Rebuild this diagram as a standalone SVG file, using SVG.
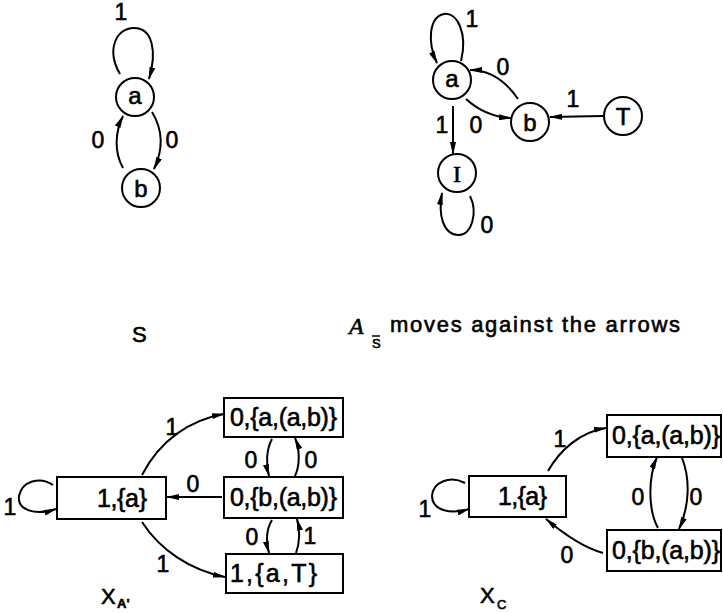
<svg xmlns="http://www.w3.org/2000/svg" width="723" height="613" viewBox="0 0 723 613">
  <defs>
    <marker id="ah" viewBox="0 0 13 6" refX="12" refY="3" markerWidth="13" markerHeight="6" orient="auto" markerUnits="userSpaceOnUse">
      <path d="M0,0 L13,3 L0,6 z" fill="#000"/>
    </marker>
  </defs>
  <style>
    .st { fill: none; stroke: #000; stroke-width: 2; }
    .box { fill: #fff; stroke: #000; stroke-width: 2; }
    .e { fill: none; stroke: #000; stroke-width: 2; marker-end: url(#ah); }
    text { font-family: "Liberation Sans", Arial, sans-serif; fill: #000; stroke: #000; stroke-width: 0.6; }
    .nl { font-size: 24px; text-anchor: middle; }
    .el { font-size: 23px; text-anchor: middle; }
    .bl { font-size: 25px; }
    .cap { font-size: 22px; }
  </style>
  <rect width="723" height="613" fill="#fff"/>

  <!-- machine S -->
  <g id="s-a"><circle class="st" cx="135" cy="97" r="19"/><text class="nl" x="135" y="104">a</text></g>
  <g id="s-b"><circle class="st" cx="141" cy="188" r="19"/><text class="nl" x="141" y="197">b</text></g>

  <!-- reversed automaton -->
  <g id="r-a"><circle class="st" cx="452" cy="80" r="19"/><text class="nl" x="452" y="87">a</text></g>
  <g id="r-b"><circle class="st" cx="530" cy="122" r="19"/><text class="nl" x="530" y="131">b</text></g>
  <g id="r-T"><circle class="st" cx="623" cy="116" r="19"/><text class="nl" x="623" y="125">T</text></g>
  <g id="r-I"><circle class="st" cx="457" cy="173" r="19"/><text class="nl" x="457" y="182" style="font-family:'Liberation Serif',serif">I</text></g>

  <!-- X_A' -->
  <g id="xa-1a"><rect class="box" x="57" y="477" width="109" height="42"/><text class="bl" x="97" y="507" textLength="50">1,{a}</text></g>
  <g id="xa-0aab"><rect class="box" x="224" y="398" width="119" height="39"/><text class="bl" x="230" y="426" textLength="107">0,{a,(a,b)}</text></g>
  <g id="xa-0bab"><rect class="box" x="224" y="477" width="119" height="41"/><text class="bl" x="230" y="506" textLength="107">0,{b,(a,b)}</text></g>
  <g id="xa-1aT"><rect class="box" x="226" y="554" width="117" height="39"/><text class="bl" x="230" y="582" textLength="87">1,{a,T}</text></g>

  <!-- X_C -->
  <g id="xc-1a"><rect class="box" x="469" y="476" width="97" height="41"/><text class="bl" x="498" y="505" textLength="49">1,{a}</text></g>
  <g id="xc-0aab"><rect class="box" x="607" y="415" width="114" height="42"/><text class="bl" x="612" y="444" textLength="108">0,{a,(a,b)}</text></g>
  <g id="xc-0bab"><rect class="box" x="607" y="530" width="114" height="41"/><text class="bl" x="612" y="559" textLength="108">0,{b,(a,b)}</text></g>

  <g id="connectors">
    <!-- S -->
    <path class="e" d="M120,74 C106,50 116,28 134,28 C153,28 157,52 149,79"/>
    <path class="e" d="M123,168 C114,152 115,132 123,116"/>
    <path class="e" d="M152,112 C163,130 163,150 154,169"/>
    <!-- reversed -->
    <path class="e" d="M461,61 C468,33 457,12 444,14 C429,17 427,42 437,63"/>
    <path class="e" d="M518,99 C505,80 490,70 470,70"/>
    <path class="e" d="M466,99 C478,110 492,117 511,118"/>
    <path class="e" d="M603,116 L550,117"/>
    <path class="e" d="M453,106 L453,154"/>
    <path class="e" d="M470,196 C478,212 472,236 458,235 C443,234 438,215 442,193"/>
    <!-- X_A' -->
    <path class="e" d="M53,485 C40,476 22,481 19,496 C17,510 35,516 56,509"/>
    <path class="e" d="M142,475 C160,440 190,420 224,414"/>
    <path class="e" d="M222,497 L167,497"/>
    <path class="e" d="M142,522 C160,550 190,570 225,577"/>
    <path class="e" d="M272,439 C266,450 266,465 269,476"/>
    <path class="e" d="M295,476 C300,465 300,450 295,438"/>
    <path class="e" d="M272,520 C266,530 266,542 269,553"/>
    <path class="e" d="M296,553 C300,542 300,530 297,519"/>
    <!-- X_C -->
    <path class="e" d="M465,483 C450,475 433,482 432,496 C432,510 450,515 469,509"/>
    <path class="e" d="M548,471 C560,450 580,432 606,428"/>
    <path class="e" d="M603,553 C585,548 565,535 546,519"/>
    <path class="e" d="M658,528 C648,510 648,478 657,457"/>
    <path class="e" d="M682,458 C690,478 690,505 679,529"/>
  </g>

  <g id="edge-labels">
    <text class="el" x="121" y="20">1</text>
    <text class="el" x="98" y="148">0</text>
    <text class="el" x="172" y="148">0</text>
    <text class="el" x="472" y="27">1</text>
    <text class="el" x="503" y="75">0</text>
    <text class="el" x="476" y="133">0</text>
    <text class="el" x="573" y="107">1</text>
    <text class="el" x="442" y="133">1</text>
    <text class="el" x="487" y="233">0</text>
    <text class="el" x="10" y="515">1</text>
    <text class="el" x="172" y="435">1</text>
    <text class="el" x="193" y="492">0</text>
    <text class="el" x="163" y="572">1</text>
    <text class="el" x="251" y="468">0</text>
    <text class="el" x="311" y="468">0</text>
    <text class="el" x="252" y="545">0</text>
    <text class="el" x="310" y="544">1</text>
    <text class="el" x="425" y="517">1</text>
    <text class="el" x="560" y="447">1</text>
    <text class="el" x="567" y="563">0</text>
    <text class="el" x="638" y="505">0</text>
    <text class="el" x="696" y="505">0</text>
  </g>

  <g id="captions">
    <text class="cap" x="132" y="342">S</text>
    <text x="349" y="334" font-size="24" style="font-family:'Liberation Serif',serif;font-style:italic">A</text>
    <line x1="372" y1="336" x2="380" y2="336" stroke="#000" stroke-width="1.5"/>
    <text x="372" y="348" font-size="13">S</text>
    <text x="390" y="332" font-size="22" textLength="290">moves against the arrows</text>
    <text class="cap" x="101" y="604">X</text>
    <text x="117" y="608" font-size="13" font-weight="bold">A'</text>
    <text class="cap" x="480" y="603">X</text>
    <text x="497" y="609" font-size="13">C</text>
  </g>
</svg>
